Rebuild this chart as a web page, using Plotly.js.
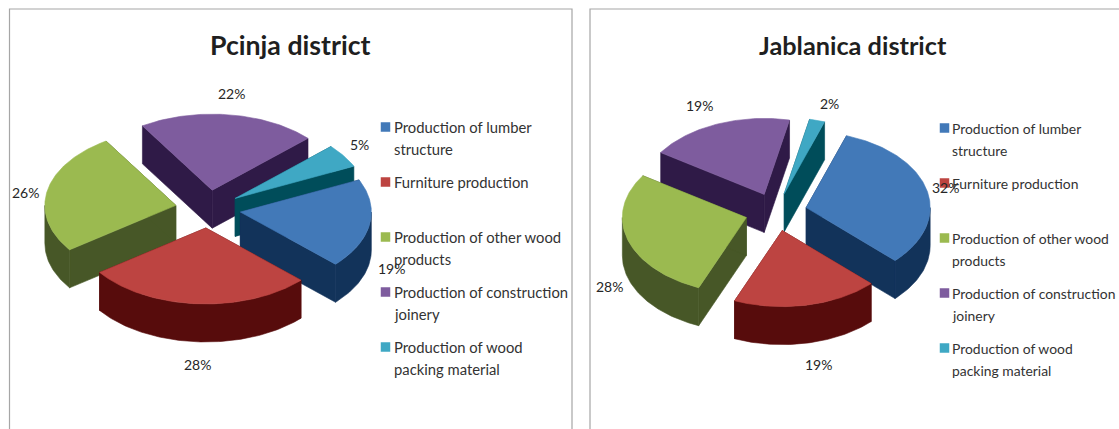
<!DOCTYPE html>
<html>
<head>
<meta charset="utf-8">
<script src="https://cdn.plot.ly/plotly-3.0.1.min.js"></script>
<style>html,body{margin:0;padding:0;background:#fff}#chart{width:1119px;height:429px}</style>
</head>
<body>
<div id="chart"></div>
<script>
const categories = [
  "Production of lumber|structure",
  "Furniture production",
  "Production of other wood|products",
  "Production of construction|joinery",
  "Production of wood|packing material"
];
const pcinjaValues = [19, 28, 26, 22, 5];
const jablanicaValues = [32, 19, 28, 19, 2];
const topColors = ["#4279b8", "#bd4441", "#9bba50", "#7e5c9e", "#3fa8c4"];
const wallColors = ["#12335a", "#570c0c", "#475727", "#2f1a47", "#004d5a"];
const drawOrder = [3, 4, 2, 0, 1];

const panels = [
  {title: "Pcinja district", titleX: 290, titleSize: 26.7, legendSize: 14.8, values: pcinjaValues, cx: 208, cy: 209, a: 131, b: 76, start: 65,
   labelPos: [[391,268],[197,364],[25,192],[231,93],[359,144]],
   swatchX: 385.5, textX: 392, legendY: [127,182,237,292,347], frame: [[9.5,429],[9.5,9],[572,9],[572,429]]},
  {title: "Jablanica district", titleX: 853, titleSize: 25.3, legendSize: 13.9, values: jablanicaValues, cx: 776, cy: 212, a: 124, b: 76, start: 19,
   labelPos: [[945,187],[818,364],[609,286],[699,105],[829,103]],
   swatchX: 944.5, textX: 949.5, legendY: [128,183,238,293,348], frame: [[590,429],[590,9],[1119,9]]}
];
const pull = 0.25, depth = 38, lineGap = 22;

const traces = [], annotations = [], shapes = [];
const rad = d => d * Math.PI / 180;
const polygon = (x, y, color, name) => traces.push({
  type: "scatter", mode: "lines", x, y, fill: "toself", fillcolor: color,
  line: {color, width: 0.6}, name: name || "", hoverinfo: name ? "name" : "skip", showlegend: false});

panels.forEach(p => {
  const total = p.values.reduce((s, v) => s + v, 0);
  let ang = p.start;
  const wedges = p.values.map(v => {
    const span = v / total * 360, w = {from: ang, to: ang + span};
    ang += span;
    return w;
  });
  drawOrder.forEach(i => {
    const w = wedges[i], mid = (w.from + w.to) / 2;
    const ax = p.cx + pull * p.a * Math.sin(rad(mid));
    const ay = p.cy - pull * p.b * Math.cos(rad(mid));
    const onRim = d => [ax + p.a * Math.sin(rad(d)), ay - p.b * Math.cos(rad(d))];
    const sweep = (from, to) => {
      const n = Math.max(8, Math.ceil(to - from)), pts = [];
      for (let k = 0; k <= n; k++) pts.push(onRim(from + (to - from) * k / n));
      return pts;
    };
    const arc = sweep(w.from, w.to);
    const c = wallColors[i], first = arc[0], last = arc[arc.length - 1];
    // two cut faces
    polygon([ax, first[0], first[0], ax, ax], [ay, first[1], first[1] + depth, ay + depth, ay], c);
    polygon([ax, last[0], last[0], ax, ax], [ay, last[1], last[1] + depth, ay + depth, ay], c);
    // outer rim: only the part that faces the viewer
    const lo = Math.max(w.from, 90), hi = Math.min(w.to, 270);
    if (hi > lo) {
      const rim = sweep(lo, hi), back = rim.slice().reverse();
      polygon([...rim.map(q => q[0]), ...back.map(q => q[0]), rim[0][0]],
              [...rim.map(q => q[1]), ...back.map(q => q[1] + depth), rim[0][1]], c);
    }
    // top face
    polygon([ax, ...arc.map(q => q[0]), ax], [ay, ...arc.map(q => q[1]), ay], topColors[i], categories[i].replace("|", " "));
  });

  // frame
  shapes.push({type: "path", line: {color: "#a6a6a6", width: 1.2},
    path: "M" + p.frame.map(q => q.join(",")).join("L")});

  // title
  annotations.push({x: p.titleX, y: 45, text: "<b>" + p.title + "</b>", showarrow: false, xanchor: "center", yanchor: "middle",
    font: {family: "Lato, 'Open Sans', sans-serif", size: p.titleSize, color: "#1f1f1f"}});

  // data labels
  p.values.forEach((v, i) => annotations.push({x: p.labelPos[i][0], y: p.labelPos[i][1], text: v + "%", showarrow: false,
    xanchor: "center", yanchor: "middle", font: {family: "Lato, sans-serif", size: 14, color: "#262626"}}));

  // legend
  traces.push({type: "scatter", mode: "markers", x: p.legendY.map(() => p.swatchX), y: p.legendY,
    marker: {symbol: "square", size: 9.5, color: topColors, line: {width: 0}}, hoverinfo: "skip", showlegend: false});
  categories.forEach((c, i) => c.split("|").forEach((line, j) => annotations.push({
    x: p.textX, y: p.legendY[i] + j * lineGap, text: line, showarrow: false, xanchor: "left", yanchor: "middle",
    font: {family: "Lato, sans-serif", size: p.legendSize, color: "#333333"}})));
});

const axis = {visible: false, fixedrange: true, showgrid: false, zeroline: false};
Plotly.newPlot("chart", traces, {
  width: 1119, height: 429, margin: {l: 0, r: 0, t: 0, b: 0},
  paper_bgcolor: "#fff", plot_bgcolor: "#fff", showlegend: false,
  xaxis: {...axis, range: [0, 1119]},
  yaxis: {...axis, range: [429, 0]},
  annotations, shapes
}, {displayModeBar: false, staticPlot: true});
</script>
</body>
</html>
